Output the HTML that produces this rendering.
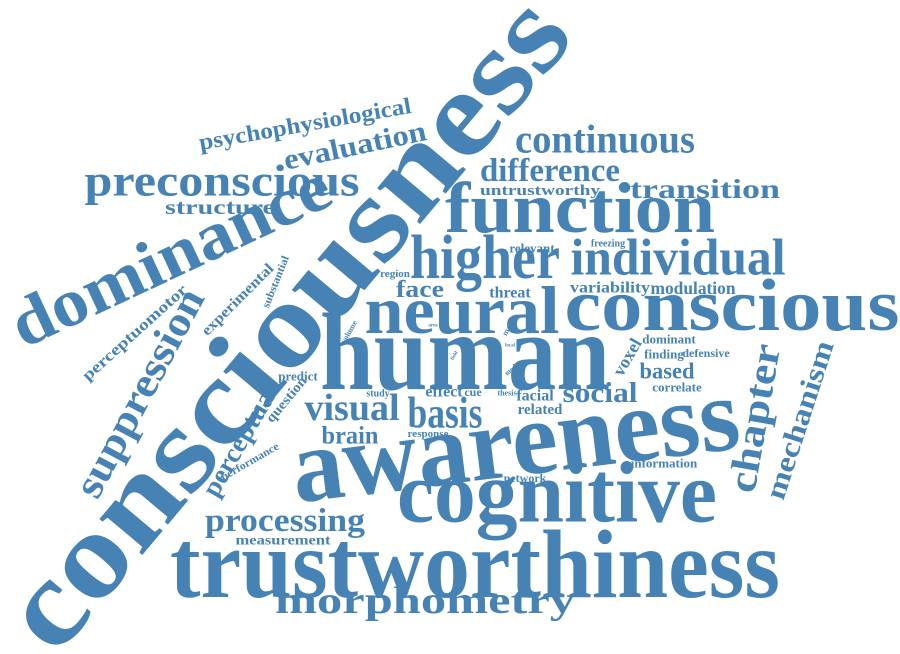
<!DOCTYPE html>
<html><head><meta charset="utf-8"><style>
html,body{margin:0;padding:0;background:#fff;}
svg{display:block;}
text{font-family:"Liberation Serif",serif;font-weight:bold;fill:#4682b4;text-anchor:middle;dominant-baseline:central;}
</style></head><body>
<svg width="900" height="654" viewBox="0 0 900 654" xmlns="http://www.w3.org/2000/svg">
<text x="285" y="322" font-size="122" textLength="810" lengthAdjust="spacingAndGlyphs" transform="rotate(-50 285 322)">consciousness</text>
<text x="515" y="440" font-size="105" textLength="450" lengthAdjust="spacingAndGlyphs" transform="rotate(-7 515 440)">awareness</text>
<text x="475" y="565" font-size="98" textLength="610" lengthAdjust="spacingAndGlyphs">trustworthiness</text>
<text x="557" y="492" font-size="87" textLength="320" lengthAdjust="spacingAndGlyphs">cognitive</text>
<text x="465" y="352" font-size="110" textLength="290" lengthAdjust="spacingAndGlyphs">human</text>
<text x="462" y="310" font-size="68" textLength="195" lengthAdjust="spacingAndGlyphs">neural</text>
<text x="732" y="306" font-size="74" textLength="335" lengthAdjust="spacingAndGlyphs">conscious</text>
<text x="580" y="208" font-size="72" textLength="270" lengthAdjust="spacingAndGlyphs">function</text>
<text x="485" y="258" font-size="62" textLength="150" lengthAdjust="spacingAndGlyphs">higher</text>
<text x="678" y="258" font-size="52" textLength="215" lengthAdjust="spacingAndGlyphs">individual</text>
<text x="170" y="255" font-size="68" textLength="345" lengthAdjust="spacingAndGlyphs" transform="rotate(-25 170 255)">dominance</text>
<text x="222" y="181" font-size="44" textLength="275" lengthAdjust="spacingAndGlyphs">preconscious</text>
<text x="605" y="139" font-size="40" textLength="180" lengthAdjust="spacingAndGlyphs">continuous</text>
<text x="550" y="171" font-size="33" textLength="140" lengthAdjust="spacingAndGlyphs">difference</text>
<text x="705" y="189" font-size="27" textLength="150" lengthAdjust="spacingAndGlyphs">transition</text>
<text x="355" y="146" font-size="29" textLength="145" lengthAdjust="spacingAndGlyphs" transform="rotate(-12 355 146)">evaluation</text>
<text x="305" y="124" font-size="23" textLength="215" lengthAdjust="spacingAndGlyphs" transform="rotate(-10 305 124)">psychophysiological</text>
<text x="220" y="207" font-size="21" textLength="110" lengthAdjust="spacingAndGlyphs">structure</text>
<text x="540" y="191" font-size="15" textLength="120" lengthAdjust="spacingAndGlyphs">untrustworthy</text>
<text x="532" y="248" font-size="13">relevant</text>
<text x="608" y="244" font-size="10">freezing</text>
<text x="610" y="288" font-size="16" textLength="80" lengthAdjust="spacingAndGlyphs">variability</text>
<text x="693" y="288" font-size="18" textLength="85" lengthAdjust="spacingAndGlyphs">modulation</text>
<text x="420" y="290" font-size="24" textLength="48" lengthAdjust="spacingAndGlyphs">face</text>
<text x="510" y="293" font-size="16">threat</text>
<text x="395" y="274" font-size="11">region</text>
<text x="140" y="393" font-size="42" textLength="230" lengthAdjust="spacingAndGlyphs" transform="rotate(-62 140 393)">suppression</text>
<text x="135" y="333" font-size="16" textLength="135" lengthAdjust="spacingAndGlyphs" transform="rotate(-42 135 333)">perceptuomotor</text>
<text x="238" y="300" font-size="15" textLength="95" lengthAdjust="spacingAndGlyphs" transform="rotate(-45 238 300)">experimental</text>
<text x="276" y="282" font-size="11" textLength="55" lengthAdjust="spacingAndGlyphs" transform="rotate(-68 276 282)">substantial</text>
<text x="240" y="440" font-size="27" textLength="125" lengthAdjust="spacingAndGlyphs" transform="rotate(-60 240 440)">perceptual</text>
<text x="250" y="462" font-size="11" textLength="65" lengthAdjust="spacingAndGlyphs" transform="rotate(-30 250 462)">performance</text>
<text x="287" y="400" font-size="14" textLength="55" lengthAdjust="spacingAndGlyphs" transform="rotate(-50 287 400)">question</text>
<text x="298" y="376" font-size="13">predict</text>
<text x="378" y="394" font-size="10">study</text>
<text x="352" y="408" font-size="38" textLength="95" lengthAdjust="spacingAndGlyphs">visual</text>
<text x="445" y="413" font-size="44" textLength="75" lengthAdjust="spacingAndGlyphs">basis</text>
<text x="350" y="436" font-size="25" textLength="57" lengthAdjust="spacingAndGlyphs">brain</text>
<text x="428" y="434" font-size="11">response</text>
<text x="444" y="392" font-size="16">effect</text>
<text x="473" y="392" font-size="12">cue</text>
<text x="507" y="393" font-size="8">thesis</text>
<text x="535" y="396" font-size="16">facial</text>
<text x="540" y="410" font-size="15">related</text>
<text x="600" y="393" font-size="29" textLength="75" lengthAdjust="spacingAndGlyphs">social</text>
<text x="667" y="371" font-size="23" textLength="55" lengthAdjust="spacingAndGlyphs">based</text>
<text x="669" y="339" font-size="13">dominant</text>
<text x="664" y="354" font-size="13">finding</text>
<text x="706" y="353" font-size="12">defensive</text>
<text x="677" y="387" font-size="13">correlate</text>
<text x="627" y="357" font-size="18" transform="rotate(-60 627 357)">voxel</text>
<text x="754" y="418" font-size="40" textLength="150" lengthAdjust="spacingAndGlyphs" transform="rotate(-80 754 418)">chapter</text>
<text x="800" y="420" font-size="29" textLength="165" lengthAdjust="spacingAndGlyphs" transform="rotate(-72 800 420)">mechanism</text>
<text x="664" y="463" font-size="13">information</text>
<text x="525" y="478" font-size="12">network</text>
<text x="285" y="521" font-size="33" textLength="160" lengthAdjust="spacingAndGlyphs">processing</text>
<text x="283" y="541" font-size="14" textLength="95" lengthAdjust="spacingAndGlyphs">measurement</text>
<text x="425" y="601" font-size="38" textLength="300" lengthAdjust="spacingAndGlyphs">morphometry</text>
<text x="349" y="332" font-size="8" transform="rotate(-60 349 332)">volume</text>
<text x="433" y="326" font-size="5">area</text>
<text x="510" y="325" font-size="8" transform="rotate(-60 510 325)">matter</text>
<text x="510" y="346" font-size="5">local</text>
<text x="455" y="356" font-size="5" transform="rotate(-60 455 356)">field</text>
<text x="512" y="369" font-size="7" transform="rotate(-40 512 369)">mode</text>
</svg>
</body></html>
